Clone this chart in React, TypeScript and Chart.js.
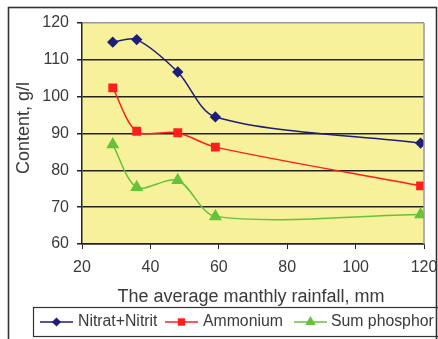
import React, { useEffect, useRef } from "react";
import { Chart, registerables } from "chart.js";

Chart.register(...registerables);

const rainfall = [29, 36, 48, 59, 119];
const nitratNitrit = [114.8, 115.5, 106.7, 94.5, 87.4];
const ammonium = [102.4, 90.6, 90.2, 86.3, 75.8];
const sumPhosphor = [87.0, 75.4, 77.3, 67.5, 68.0];
const seriesNames = ["Nitrat+Nitrit", "Ammonium", "Sum phosphor"];
const xTitle = "The average manthly rainfall, mm";
const yTitle = "Content, g/l";

const COLORS = ["#1E1E78", "#FF1E1E", "#66C23A"];
const STYLES = ["rectRot", "rect", "triangle"];
const RADII = [4.6, 5.2, 6];
const FONT = "'Liberation Sans', Arial, sans-serif";

function toPts(ys: number[]) {
  return rainfall.map((x, i) => ({ x, y: ys[i] }));
}

function drawMarker(ctx: any, style: string, r: number, x: number, y: number) {
  ctx.beginPath();
  if (style === "rectRot") {
    ctx.moveTo(x, y - r);
    ctx.lineTo(x + r, y);
    ctx.lineTo(x, y + r);
    ctx.lineTo(x - r, y);
  } else if (style === "rect") {
    const s = r * Math.SQRT1_2;
    ctx.rect(x - s, y - s, 2 * s, 2 * s);
  } else {
    ctx.moveTo(x, y - r);
    ctx.lineTo(x + r * 0.866, y + r * 0.5);
    ctx.lineTo(x - r * 0.866, y + r * 0.5);
  }
  ctx.closePath();
  ctx.fill();
}

const decor = {
  id: "decor",
  beforeDraw(chart: any) {
    const { ctx, chartArea: a } = chart;
    ctx.save();
    ctx.fillStyle = "#ffffff";
    ctx.fillRect(0, 0, chart.width, chart.height);
    ctx.fillStyle = "#F6F19A";
    ctx.fillRect(a.left, a.top, a.right - a.left, a.bottom - a.top);
    ctx.restore();
  },
  afterDraw(chart: any) {
    const { ctx, chartArea: a } = chart;
    ctx.save();
    ctx.strokeStyle = "#9a9a9a";
    ctx.lineWidth = 1.5;
    ctx.beginPath();
    ctx.moveTo(a.right, a.top);
    ctx.lineTo(a.right, a.bottom);
    ctx.stroke();

    ctx.fillStyle = "#3a3a3a";
    ctx.font = `18px ${FONT}`;
    ctx.textAlign = "center";
    ctx.textBaseline = "middle";
    ctx.fillText(xTitle, 251, 297);
    ctx.save();
    ctx.translate(24, 128);
    ctx.rotate(-Math.PI / 2);
    ctx.fillText(yTitle, 0, 0);
    ctx.restore();

    ctx.strokeStyle = "#333";
    ctx.lineWidth = 1.2;
    ctx.strokeRect(33.5, 307.5, 430, 29);
    const items = [
      { x0: 40, x1: 73, tx: 78 },
      { x0: 165, x1: 198, tx: 203 },
      { x0: 294, x1: 327, tx: 331 },
    ];
    const ly = 322;
    items.forEach((it, i) => {
      ctx.strokeStyle = COLORS[i];
      ctx.lineWidth = 1.5;
      ctx.beginPath();
      ctx.moveTo(it.x0, ly);
      ctx.lineTo(it.x1, ly);
      ctx.stroke();
      ctx.fillStyle = COLORS[i];
      drawMarker(ctx, STYLES[i], RADII[i], (it.x0 + it.x1) / 2, ly);
      ctx.fillStyle = "#3a3a3a";
      ctx.font = `15.8px ${FONT}`;
      ctx.textAlign = "left";
      ctx.textBaseline = "middle";
      ctx.fillText(seriesNames[i], it.tx, ly);
    });

    ctx.strokeStyle = "#333";
    ctx.lineWidth = 1.6;
    ctx.strokeRect(8.5, 7.5, 428, 360);
    ctx.restore();
  },
};

export default function App() {
  const ref = useRef<HTMLCanvasElement | null>(null);
  useEffect(() => {
    if (!ref.current) return;
    const datasets = [nitratNitrit, ammonium, sumPhosphor].map((d, i) => ({
      label: seriesNames[i],
      data: toPts(d),
      showLine: true,
      borderColor: COLORS[i],
      backgroundColor: COLORS[i],
      pointBackgroundColor: COLORS[i],
      pointBorderColor: COLORS[i],
      pointStyle: STYLES[i] as any,
      pointRadius: RADII[i],
      borderWidth: 1.5,
      tension: 0.3,
    }));
    const chart = new Chart(ref.current, {
      type: "scatter",
      data: { datasets },
      options: {
        animation: false,
        responsive: false,
        devicePixelRatio: 1,
        layout: { padding: { top: 23, right: 14, left: 0, bottom: 0 } },
        plugins: { legend: { display: false }, tooltip: { enabled: false } },
        scales: {
          x: {
            type: "linear",
            min: 20,
            max: 120,
            afterFit: (s: any) => {
              s.height = 95;
              s.paddingLeft = 0;
              s.paddingRight = 0;
            },
            ticks: {
              stepSize: 20,
              color: "#3a3a3a",
              font: { size: 16, family: FONT },
              padding: 9,
              maxRotation: 0,
            },
            grid: {
              drawOnChartArea: false,
              drawTicks: true,
              tickLength: 5,
              tickColor: "#222",
            },
            border: { color: "#222", width: 1.5 },
          },
          y: {
            min: 60,
            max: 120,
            afterFit: (s: any) => {
              s.width = 82;
              s.paddingTop = 0;
              s.paddingBottom = 0;
            },
            ticks: {
              stepSize: 10,
              color: "#3a3a3a",
              font: { size: 16, family: FONT },
              padding: 8,
            },
            grid: {
              color: (c: any) => (c.tick && c.tick.value === 120 ? "#9a9a9a" : "#222"),
              lineWidth: 1.5,
              drawTicks: true,
              tickLength: 5,
              tickColor: "#222",
            },
            border: { color: "#222", width: 1.5 },
          },
        },
      },
      plugins: [decor],
    });
    return () => chart.destroy();
  }, []);
  return (
    <div style={{ position: "absolute", left: 0, top: 0, width: 438, height: 339 }}>
      <canvas ref={ref} width={438} height={339} style={{ display: "block" }} />
    </div>
  );
}
